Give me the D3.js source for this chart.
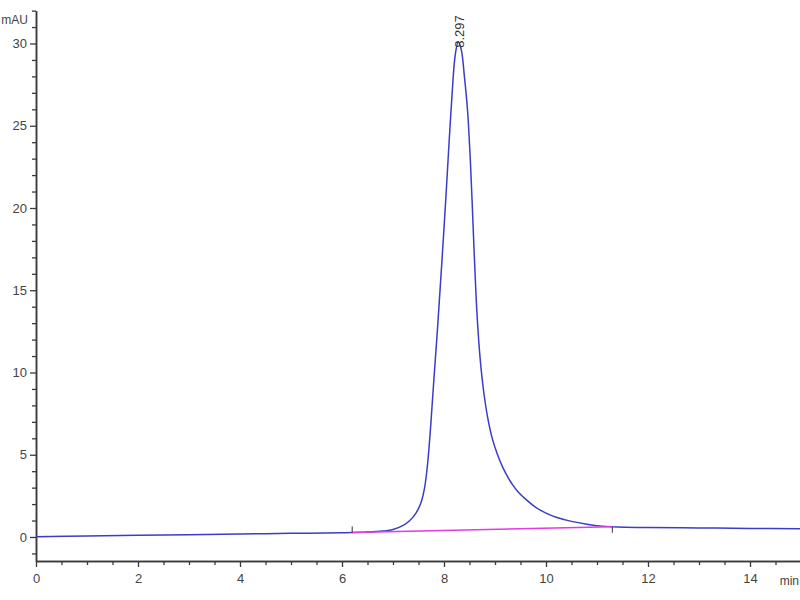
<!DOCTYPE html>
<html>
<head>
<meta charset="utf-8">
<script src="https://cdn.jsdelivr.net/npm/d3@7"></script>
<style>
  html, body { margin: 0; padding: 0; background: #fff; }
  svg { display: block; }
  text { font-family: "Liberation Sans", Arial, sans-serif; }
</style>
</head>
<body>
<svg id="chart" width="800" height="600"></svg>
<script>
// ---- data ----
const timeMin = [0, 1, 2, 3, 4, 5, 6, 6.5, 6.8, 7.0, 7.2, 7.33, 7.45, 7.55, 7.62, 7.68, 7.74, 7.80, 7.88, 7.96, 8.04, 8.10, 8.16, 8.22, 8.28, 8.34, 8.40, 8.46, 8.51, 8.55, 8.59, 8.65, 8.71, 8.78, 8.86, 8.95, 9.05, 9.15, 9.25, 9.35, 9.45, 9.60, 9.80, 10.0, 10.2, 10.5, 10.8, 11.1, 11.4, 12, 13, 14, 15];
const signalMAU = [0.02, 0.06, 0.1, 0.14, 0.18, 0.22, 0.26, 0.3, 0.36, 0.45, 0.7, 1.0, 1.45, 2.1, 3.0, 4.5, 6.8, 9.5, 13.0, 16.8, 20.8, 24.0, 27.0, 29.3, 30.1, 29.6, 28.0, 26.0, 23.3, 20.5, 17.4, 13.4, 10.8, 8.8, 7.2, 5.95, 5.0, 4.25, 3.65, 3.15, 2.75, 2.3, 1.8, 1.45, 1.2, 0.95, 0.78, 0.66, 0.6, 0.58, 0.55, 0.52, 0.5];
const baselineTime = [6.2, 11.3];
const baselineMAU = [0.28, 0.62];
const peakLabel = "8.297";
const peakTime = 8.297;
const peakValue = 30.1;
const xTicks = [0, 2, 4, 6, 8, 10, 12, 14];
const yTicks = [0, 5, 10, 15, 20, 25, 30];
const yUnit = "mAU";
const xUnit = "min";

// ---- drawing ----
const svg = d3.select("#chart");
const x = d3.scaleLinear().domain([0, 15]).range([36, 801]);
const y = d3.scaleLinear().domain([-1.46, 32]).range([561, 10.6]);

const axisColor = "#3a3a3a";
const labelColor = "#444";

// minor ticks
const xMinor = d3.range(0, 15.01, 0.5).filter(v => !xTicks.includes(v));
const yMinor = d3.range(-1, 32.01, 1).filter(v => !yTicks.includes(v));

const xAxis = svg.append("g").attr("transform", `translate(0,${y.range()[0]})`)
  .call(d3.axisBottom(x).tickValues(xTicks).tickFormat(d3.format("d")).tickSize(6).tickSizeOuter(0));
const xAxisMinor = svg.append("g").attr("transform", `translate(0,${y.range()[0]})`)
  .call(d3.axisBottom(x).tickValues(xMinor).tickFormat("").tickSize(4).tickSizeOuter(0));
const yAxis = svg.append("g").attr("transform", `translate(${x.range()[0]},0)`)
  .call(d3.axisLeft(y).tickValues(yTicks).tickFormat(d3.format("d")).tickSize(6).tickSizeOuter(0));
const yAxisMinor = svg.append("g").attr("transform", `translate(${x.range()[0]},0)`)
  .call(d3.axisLeft(y).tickValues(yMinor).tickFormat("").tickSize(4).tickSizeOuter(0));

[xAxis, xAxisMinor, yAxis, yAxisMinor].forEach(g => {
  g.select(".domain").attr("stroke", axisColor).attr("stroke-width", 1.5);
  g.selectAll(".tick line").attr("stroke", axisColor).attr("stroke-width", 1.3);
  g.selectAll(".tick text").attr("fill", labelColor).attr("font-size", 13)
    .attr("font-family", "'Liberation Sans', Arial, sans-serif");
});
xAxis.selectAll(".tick text").attr("dy", "1.0em");
yAxis.selectAll(".tick text").attr("x", -9);

// unit labels
svg.append("text").attr("x", 28).attr("y", 24).attr("text-anchor", "end")
  .attr("fill", labelColor).attr("font-size", 12).text(yUnit);
svg.append("text").attr("x", 799).attr("y", 585).attr("text-anchor", "end")
  .attr("fill", labelColor).attr("font-size", 12).text(xUnit);

// signal
const pts = timeMin.map((t, i) => [t, signalMAU[i]]);
const line = d3.line().x(d => x(d[0])).y(d => y(d[1])).curve(d3.curveCatmullRom.alpha(0.5));
svg.append("path").datum(pts).attr("d", line)
  .attr("fill", "none").attr("stroke", "#3c3cc8").attr("stroke-width", 1.5);

// integration baseline
const bpts = baselineTime.map((t, i) => [t, baselineMAU[i]]);
svg.append("path").datum(bpts).attr("d", d3.line().x(d => x(d[0])).y(d => y(d[1])))
  .attr("fill", "none").attr("stroke", "#e03ce0").attr("stroke-width", 1.5);
// start / end marks
svg.append("line").attr("x1", x(baselineTime[0])).attr("x2", x(baselineTime[0]))
  .attr("y1", y(baselineMAU[0])).attr("y2", y(baselineMAU[0]) - 6)
  .attr("stroke", "#333").attr("stroke-width", 1);
svg.append("line").attr("x1", x(baselineTime[1])).attr("x2", x(baselineTime[1]))
  .attr("y1", y(baselineMAU[1])).attr("y2", y(baselineMAU[1]) + 6)
  .attr("stroke", "#333").attr("stroke-width", 1);

// peak label (rotated)
const px = x(peakTime), py = y(peakValue) + 6;
svg.append("text").attr("transform", `translate(${px + 4.5},${py}) rotate(-90)`)
  .attr("text-anchor", "start").attr("fill", "#333").attr("font-size", 13)
  .text(peakLabel);
</script>
</body>
</html>
